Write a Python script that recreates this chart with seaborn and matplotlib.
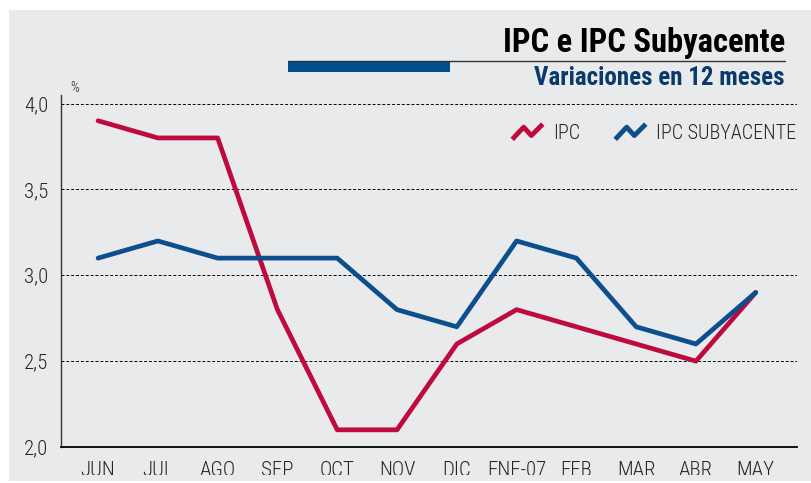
import matplotlib
matplotlib.use("Agg")
import matplotlib.pyplot as plt
from matplotlib.lines import Line2D
from matplotlib.path import Path
from matplotlib.patches import Rectangle
from matplotlib.transforms import Bbox
import numpy as np
import pandas as pd
import seaborn as sns

meses = ["JUN", "JUL", "AGO", "SEP", "OCT", "NOV", "DIC", "ENE-07", "FEB", "MAR", "ABR", "MAY"]
ipc = [3.9, 3.8, 3.8, 2.8, 2.1, 2.1, 2.6, 2.8, 2.7, 2.6, 2.5, 2.9]
ipc_sub = [3.1, 3.2, 3.1, 3.1, 3.1, 2.8, 2.7, 3.2, 3.1, 2.7, 2.6, 2.9]
y_ticks = [2.0, 2.5, 3.0, 3.5, 4.0]

RED = "#BE0A3C"
BLUE = "#0C4F8C"
BG = "#E9EAEC"

sns.set_style("white")
plt.rcParams["font.family"] = ["Roboto Condensed", "Liberation Sans Narrow", "DejaVu Sans"]
plt.rcParams["font.stretch"] = "condensed"

df = pd.DataFrame({
    "x": list(range(len(meses))) * 2,
    "valor": ipc + ipc_sub,
    "serie": ["IPC"] * len(meses) + ["IPC SUBYACENTE"] * len(meses),
})

fig = plt.figure(figsize=(8.12, 4.83), dpi=100, facecolor="white")
# grey panel, white margin at top and left
fig.patches.append(Rectangle((9 / 812, 2 / 483), 1, 1 - 12 / 483, transform=fig.transFigure,
                             facecolor=BG, edgecolor="none", zorder=-5))

ax = fig.add_axes([61 / 812, 1 - 447 / 483, (797 - 61) / 812, (447 - 95) / 483])
ax.set_facecolor(BG)

sns.lineplot(data=df, x="x", y="valor", hue="serie", palette={"IPC": RED, "IPC SUBYACENTE": BLUE},
             linewidth=3.4, ax=ax, legend=False, zorder=3)

ax.set_xlim(-0.62, 11.69)
ax.set_ylim(2.0, 4.05)
ax.set_yticks(y_ticks)
ax.set_yticklabels([f"{v:.1f}".replace(".", ",") for v in y_ticks], fontsize=15, fontweight="light")
ax.set_xticks(range(len(meses)))
ax.set_xticklabels(meses, fontsize=15, fontweight="light")
ax.tick_params(axis="x", length=0, pad=10)
ax.tick_params(axis="y", length=0, pad=9)
ax.set_xlabel("")
ax.set_ylabel("")

# month labels are cut off at the bottom in the original
clip = Bbox.from_extents(0, 483 - 475, 812, 483)
for lbl in ax.get_xticklabels():
    lbl.set_clip_on(True)
    lbl.set_clip_box(clip)

for v in y_ticks[1:]:
    ax.axhline(v, color="black", lw=0.7, ls=(0, (3, 2)), zorder=1)

for s in ["top", "right"]:
    ax.spines[s].set_visible(False)
ax.spines["left"].set_color("#333333")
ax.spines["left"].set_linewidth(1.0)
ax.spines["bottom"].set_color("black")
ax.spines["bottom"].set_linewidth(1.3)

ax.text(0.012, 1.0, "%", transform=ax.transAxes, fontsize=10, fontweight="light",
        va="bottom", ha="left")

# legend with zigzag icons
zig = Path([(-1, -0.45), (-0.25, 0.35), (0.25, -0.2), (1, 0.55)],
           [Path.MOVETO, Path.LINETO, Path.LINETO, Path.LINETO])
handles = [Line2D([], [], ls="none", marker=zig, ms=22, mew=3.5, mfc="none", mec=c)
           for c in (RED, BLUE)]
leg = ax.legend(handles, ["IPC", "IPC SUBYACENTE"], ncol=2, frameon=False,
                prop={"size": 14.5, "weight": "light"},
                loc="upper right", bbox_to_anchor=(1.024, 0.97), handletextpad=0.3,
                columnspacing=1.5, handlelength=2.0)

# header
fig.text(785 / 812, 1 - 43 / 483, "IPC e IPC Subyacente", fontsize=23.5, fontweight="bold",
         ha="right", va="center", color="black")
fig.add_artist(Line2D([288 / 812, 785 / 812], [1 - 61 / 483, 1 - 61 / 483],
                      transform=fig.transFigure, color="#333333", lw=1.0))
fig.patches.append(Rectangle((288 / 812, 1 - 72 / 483), (450 - 288) / 812, 10 / 483,
                             transform=fig.transFigure, facecolor="#00508E", edgecolor="none"))
fig.text(785 / 812, 1 - 78 / 483, "Variaciones en 12 meses", fontsize=18, fontweight="bold",
         ha="right", va="center", color="#0A3A6B")

fig.savefig("out.png", dpi=100, facecolor=fig.get_facecolor())
